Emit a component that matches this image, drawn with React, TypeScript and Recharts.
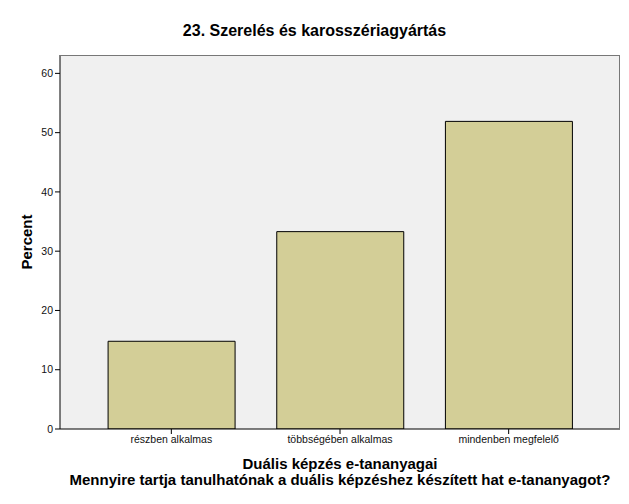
import React from 'react';
import { BarChart, Bar, XAxis, YAxis, CartesianGrid } from 'recharts';

const categories = ['részben alkalmas', 'többségében alkalmas', 'mindenben megfelelő'];
const percents = [14.8, 33.3, 51.9];
const yTicks = [0, 10, 20, 30, 40, 50, 60];

const data = categories.map((name, i) => ({ name, value: percents[i] }));

const font = '"Liberation Sans", Arial, sans-serif';

const App: React.FC = () => {
    return (
        <div style={{ position: 'absolute', left: 0, top: 0, width: 629, height: 504, background: '#fff', fontFamily: font }}>
            <BarChart
                width={629}
                height={504}
                data={data}
                margin={{ top: 55, right: 9, left: 0, bottom: 0 }}
                barCategoryGap="12.5%"
            >
                <CartesianGrid fill="#F0F0F0" horizontal={false} vertical={false} />
                <XAxis
                    dataKey="name"
                    height={75}
                    padding={{ left: 27, right: 27 }}
                    axisLine={{ stroke: '#000' }}
                    tickLine={{ stroke: '#000' }}
                    tickSize={5}
                    tick={{ fill: '#111', fontSize: 10.5, fontFamily: font }}
                />
                <YAxis
                    width={60}
                    domain={[0, 63.1]}
                    ticks={yTicks}
                    allowDataOverflow
                    axisLine={{ stroke: '#000' }}
                    tickLine={{ stroke: '#000' }}
                    tickSize={5}
                    tick={{ fill: '#111', fontSize: 10.5, fontFamily: font }}
                />
                <Bar dataKey="value" fill="#D3CE97" stroke="#000" strokeWidth={1} isAnimationActive={false} />
            </BarChart>
            <div style={{ position: 'absolute', left: 60, top: 55, width: 560, height: 374, boxSizing: 'border-box', borderTop: '1px solid #777', borderRight: '1px solid #777', pointerEvents: 'none' }} />
            <div style={{ position: 'absolute', left: 0, width: 629, top: 22, textAlign: 'center', fontWeight: 'bold', fontSize: 16 }}>
                23. Szerelés és karosszériagyártás
            </div>
            <div style={{ position: 'absolute', left: 26, top: 242, transform: 'translate(-50%, -50%) rotate(-90deg)', fontWeight: 'bold', fontSize: 15, whiteSpace: 'nowrap' }}>
                Percent
            </div>
            <div style={{ position: 'absolute', left: 40, width: 600, top: 456, textAlign: 'center', fontWeight: 'bold', fontSize: 15, lineHeight: '16px' }}>
                Duális képzés e-tananyagai<br />
                Mennyire tartja tanulhatónak a duális képzéshez készített hat e-tananyagot?
            </div>
        </div>
    );
};

export default App;
